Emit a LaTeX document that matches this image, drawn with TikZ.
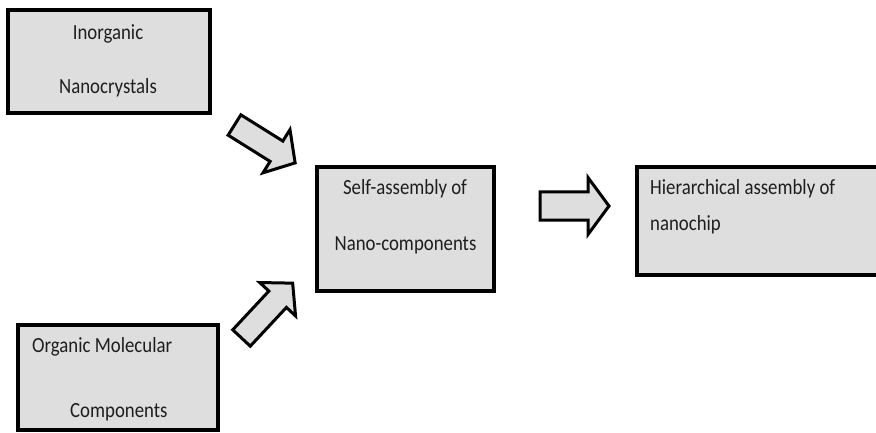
\documentclass[tikz,border=0pt]{standalone}
\usepackage{fontspec}
\usepackage{graphicx}
\setmainfont{Carlito}
\definecolor{boxfill}{HTML}{DEDEDE}
\definecolor{ink}{HTML}{1E1E1E}
\newcommand{\tallword}[1]{\scalebox{1}[1.15]{#1}}
\tikzset{
  stagebox/.style={draw=black, line width=4pt, fill=boxfill},
  label/.style={text=ink, font=\fontsize{18.8}{22}\selectfont, inner sep=0pt},
  blockfill/.style={draw=black, line width=3pt, fill=boxfill, line join=miter},
  % block arrow: length, shaft half width, head half width, head length
  pics/blockarrow/.style n args={4}{code={
    \draw[blockfill] (0,-#2) -- ({#1-#4},-#2) -- ({#1-#4},-#3) -- (#1,0)
      -- ({#1-#4},#3) -- ({#1-#4},#2) -- (0,#2) -- cycle;
  }}
}
\begin{document}
\begin{tikzpicture}[x=1pt,y=-1pt]
\useasboundingbox (0,0) rectangle (876,433);
\begin{scope}
\clip (0,0) rectangle (876,433);

% stage boxes
\draw[stagebox] (8,10) rectangle (210,113);
\draw[stagebox] (317,167) rectangle (494,291);
\draw[stagebox] (637,167) rectangle (900,275);
\draw[stagebox] (18,325) rectangle (218,430);

% labels
\node[label, anchor=mid] (t1) at (108,37) {\tallword{Inorganic}};
\node[label, anchor=mid] (t2) at (108,91) {\tallword{Nanocrystals}};
\node[label, anchor=mid] (t3) at (405,192) {\tallword{Self-assembly of}};
\node[label, anchor=mid] (t4) at (405.5,248) {\tallword{Nano-components}};
\node[label, anchor=mid west] (t5) at (650,192) {\tallword{Hierarchical assembly of}};
\node[label, anchor=mid west] (t6) at (650,228) {\tallword{nanochip}};
\node[label, anchor=mid west] (t7) at (32,350) {\tallword{Organic Molecular}};
\node[label, anchor=mid west] (t8) at (70,415) {\tallword{Components}};

% block arrows between the stages
\pic (inorgarrow) [rotate=-32] at (234.5,125) {blockarrow={71.5}{12}{25.5}{22}};
\pic (orgarrow) [rotate=47] at (241.5,338) {blockarrow={75}{12}{24.5}{22}};
\pic (selfarrow) at (540,206) {blockarrow={69}{14}{28.5}{21}};
\end{scope}
\end{tikzpicture}
\end{document}
